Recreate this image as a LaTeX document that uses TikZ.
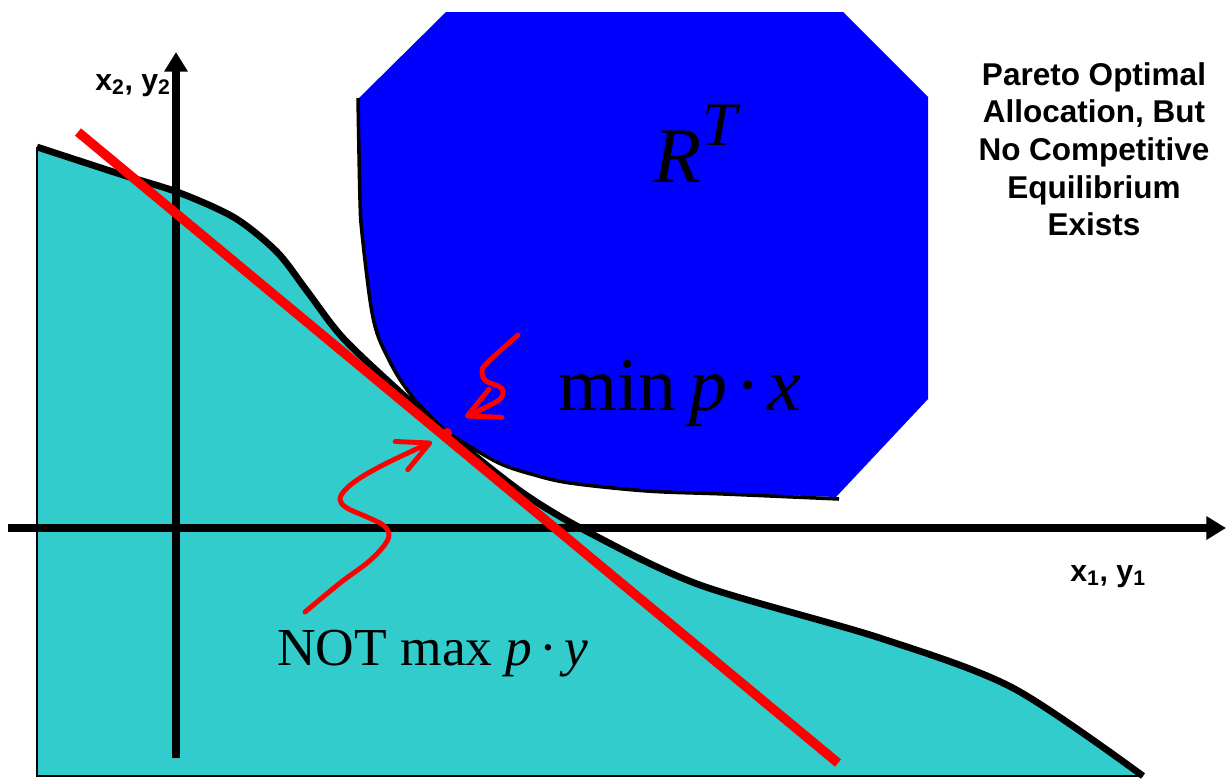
\documentclass[tikz,border=0pt]{standalone}
\usepackage{fontspec}
\setmainfont{Liberation Serif}
\newfontfamily\labelfont{Liberation Sans}
\usepackage{xcolor}
\usepackage{tikz}
\usetikzlibrary{arrows.meta}

\definecolor{prodteal}{HTML}{33CCCC}
\definecolor{prefblue}{HTML}{0000FF}

\begin{document}
\begin{tikzpicture}[x=0.025cm, y=-0.025cm,
    axis/.style={line width=5.3pt, -{Triangle[length=14pt,width=16pt]}},
    frontier/.style={line width=4.8pt, line join=round},
    rim/.style={line width=2.5pt},
    price/.style={draw=red, line width=6.7pt},
    pointer/.style={draw=red, line width=3.5pt, line cap=round, line join=round, -{Straight Barb[length=22pt,width=22pt,round]}},
    axlab/.style={font=\labelfont\bfseries\fontsize{21.5}{24}\selectfont, inner sep=0},
    note/.style={font=\labelfont\bfseries\fontsize{22.4}{26.8}\selectfont, align=center, inner sep=0},
    bigmath/.style={inner sep=0, font=\fontsize{54}{60}\selectfont},
    caption/.style={inner sep=0, font=\fontsize{38}{42}\selectfont}
  ]
    \useasboundingbox (0,0) rectangle (1227,778);

    \fill[prodteal] (37,775) -- plot[smooth, tension=0.5] coordinates {(37,147) (123,175) (180,193) (235,218) (277,252) (307,291) (343,338) (400,392) (447,433) (523,493) (590,533) (700,585) (880,638) (1013,688) (1143,776)} -- cycle;
    \draw[line width=1pt] (1143,776) -- (37,776) -- (37,147);
    \draw[frontier] plot[smooth, tension=0.5] coordinates {(37,147) (123,175) (180,193) (235,218) (277,252) (307,291) (343,338) (400,392) (447,433) (523,493) (590,533) (700,585) (880,638) (1013,688) (1143,776)};

    \fill[prefblue] plot[smooth, tension=0.55] coordinates {(359,98) (361,200) (363,233) (371,300) (378,333) (390,360) (402,380) (417,400) (436,420) (451,433) (475,448) (502,463) (532,473) (571,482) (648,490) (725,493) (836,497)} -- (928,399) -- (928,97) -- (843,12) -- (446,12) -- cycle;
    \draw[rim] plot[smooth, tension=0.55] coordinates {(358,98) (360,200) (362,233) (370,300) (377,333) (389,360) (401,381) (416,401) (435,421) (450,434) (474,449) (501,464) (531,474) (570,483) (647,491) (724,494) (839,499)};

    \coordinate (xstart) at (8,528);
    \coordinate (xend) at (1226,528);
    \coordinate (ystart) at (176,758);
    \coordinate (yend) at (176,52);
    \draw[axis] (xstart) -- (xend);
    \draw[axis] (ystart) -- (yend);

    \coordinate (pstart) at (78,132);
    \coordinate (pend) at (838,763);
    \coordinate (tangency) at (447,433);
    \draw[price] (pstart) -- (pend);
    \fill[red] (tangency) circle[radius=5];

    \draw[pointer] plot[smooth, tension=0.6] coordinates {(518,335) (487,363) (482,372) (486,381) (500,387) (503,394) (496,402) (465,417)};
    \draw[pointer] plot[smooth, tension=0.6] coordinates {(305,612) (340,583) (367,563) (383,547) (389,535) (383,525) (367,517) (347,508) (340,500) (345,490) (360,478) (383,465) (410,452) (432,442)};

    \node[axlab, anchor=base east] (ylab) at (171,90) {x\textsubscript{2}, y\textsubscript{2}};
    \node[axlab, anchor=base east] (xlab) at (1146,581) {x\textsubscript{1}, y\textsubscript{1}};
    \node[note, anchor=north] (claim) at (1094,62) {Pareto Optimal\\Allocation, But\\No Competitive\\Equilibrium\\Exists};
    \node[bigmath, anchor=base west, font=\fontsize{56}{60}\selectfont] (settag) at (653,182) {\textit{R}\kern1pt\raisebox{26pt}{\fontsize{44}{44}\selectfont\textit{T}}};
    \node[bigmath, anchor=base west] (minlab) at (558,410) {min\kern9pt\textit{p}\kern6pt·\kern5pt\textit{x}};
    \node[caption, anchor=base west] (maxlab) at (277,665) {NOT max \textit{p}\kern5pt·\kern5pt\textit{y}};
  \end{tikzpicture}
\end{document}
